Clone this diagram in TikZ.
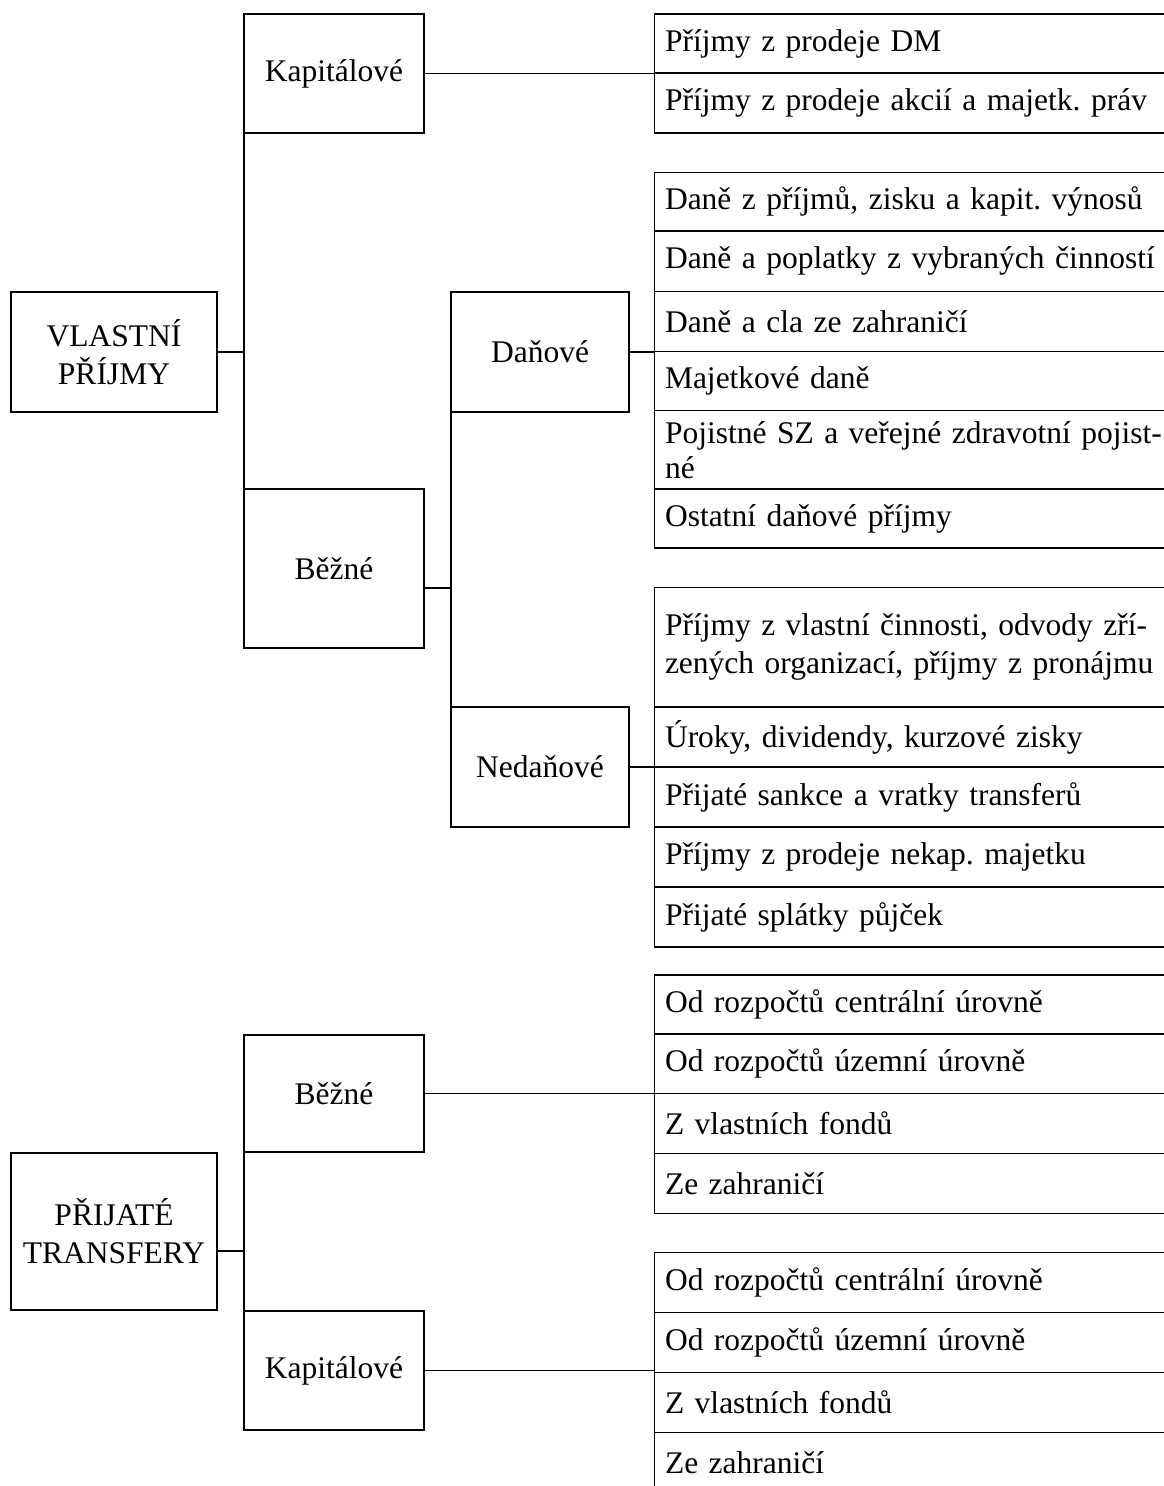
\documentclass[tikz,border=0pt]{standalone}
\usepackage{fontspec}
\setmainfont{Liberation Serif}
\frenchspacing
\newcommand\rowframe[1]{\draw (#1.north east) -- (#1.north west) -- (#1.south west) -- (#1.south east);}
\begin{document}
\begin{tikzpicture}[x=1pt,y=-1pt,line width=1.6pt,
  every node/.style={outer sep=0pt},
  boxn/.style={draw, align=center, inner sep=0pt, font=\fontsize{31.5}{38}\selectfont},
  listrow/.style={anchor=north west, text width=520pt, inner xsep=10.5pt, inner ysep=0pt, align=left, font=\fontsize{31.5}{37}\selectfont}]
\useasboundingbox (0,0) rectangle (1163,1486);
% left boxes
\node[boxn, minimum width=180pt, minimum height=119pt] (kap1) at (334,73.5) {Kapitálové};
\node[boxn, minimum width=206pt, minimum height=120pt] (vl) at (114,352) {VLASTNÍ\\PŘÍJMY};
\node[boxn, minimum width=180pt, minimum height=159pt] (bez1) at (334,568.5) {Běžné};
\node[boxn, minimum width=178pt, minimum height=120pt] (dan) at (540,352) {Daňové};
\node[boxn, minimum width=178pt, minimum height=120pt] (ned) at (540,767) {Nedaňové};
\node[boxn, minimum width=180pt, minimum height=117pt] (bez2) at (334,1093.5) {Běžné};
\node[boxn, minimum width=206pt, minimum height=157pt] (pt) at (114,1231.5) {PŘIJATÉ\\TRANSFERY};
\node[boxn, minimum width=180pt, minimum height=119pt] (kap2) at (334,1370.5) {Kapitálové};
% list 1
\node[listrow, minimum height=59pt] (l1a) at (654.5,14) {Příjmy z prodeje DM};
\node[listrow, minimum height=60pt] (l1b) at (654.5,73) {Příjmy z prodeje akcií a majetk. práv};
% list 2
\node[listrow, minimum height=58.5pt] (l2a) at (654.5,172.5) {Daně z příjmů, zisku a kapit. výnosů};
\node[listrow, minimum height=60.5pt] (l2b) at (654.5,231) {Daně a poplatky z vybraných činností};
\node[listrow, minimum height=60pt] (l2c) at (654.5,291.5) {Daně a cla ze zahraničí};
\node[listrow, minimum height=59pt] (l2d) at (654.5,351.5) {Majetkové daně};
\node[listrow, minimum height=78.5pt, font=\fontsize{31.5}{35}\selectfont] (l2e) at (654.5,410.5) {Pojistné SZ a veřejné zdravotní pojist-\\né};
\node[listrow, minimum height=59pt] (l2f) at (654.5,489) {Ostatní daňové příjmy};
% list 3
\node[listrow, minimum height=119.5pt, font=\fontsize{31.5}{38}\selectfont] (l3a) at (654.5,587.5) {Příjmy z vlastní činnosti, odvody zří-\\zených organizací, příjmy z pronájmu};
\node[listrow, minimum height=60pt] (l3b) at (654.5,707) {Úroky, dividendy, kurzové zisky};
\node[listrow, minimum height=60pt] (l3c) at (654.5,767) {Přijaté sankce a vratky transferů};
\node[listrow, minimum height=60pt] (l3d) at (654.5,827) {Příjmy z prodeje nekap. majetku};
\node[listrow, minimum height=60pt] (l3e) at (654.5,887) {Přijaté splátky půjček};
% list 4
\node[listrow, minimum height=59pt] (l4a) at (654.5,975) {Od rozpočtů centrální úrovně};
\node[listrow, minimum height=59.5pt] (l4b) at (654.5,1034) {Od rozpočtů územní úrovně};
\node[listrow, minimum height=60pt] (l4c) at (654.5,1093.5) {Z vlastních fondů};
\node[listrow, minimum height=60pt] (l4d) at (654.5,1153.5) {Ze zahraničí};
% list 5
\node[listrow, minimum height=60pt] (l5a) at (654.5,1252.5) {Od rozpočtů centrální úrovně};
\node[listrow, minimum height=60pt] (l5b) at (654.5,1312.5) {Od rozpočtů územní úrovně};
\node[listrow, minimum height=60pt] (l5c) at (654.5,1372.5) {Z vlastních fondů};
\node[listrow, minimum height=60pt] (l5d) at (654.5,1432.5) {Ze zahraničí};
% row frames
\foreach \r in {l1a,l1b,l2a,l2b,l2c,l2d,l2e,l2f,l3a,l3b,l3c,l3d,l3e,l4a,l4b,l4c,l4d,l5a,l5b,l5c}{\rowframe{\r}}
\draw (l5d.north east) -- (l5d.north west) -- (l5d.south west);
% junction coordinates
\coordinate (b1j) at (bez1.east |- 0,588);
\coordinate (ptj) at (pt.east |- 0,1251);
% connectors
\draw (kap1.east) -- (kap1.east -| l1a.west);
\draw (kap1.south west) -- (bez1.north west);
\draw (vl.east) -- (vl.east -| kap1.west);
\draw (b1j) -- (b1j -| dan.west);
\draw (dan.south west) -- (ned.north west);
\draw (dan.east) -- (dan.east -| l2d.west);
\draw (ned.east) -- (ned.east -| l3c.west);
\draw (bez2.south west) -- (kap2.north west);
\draw (ptj) -- (ptj -| bez2.west);
\draw (bez2.east) -- (bez2.east -| l4c.west);
\draw (kap2.east) -- (kap2.east -| l5c.west);
\end{tikzpicture}
\end{document}
